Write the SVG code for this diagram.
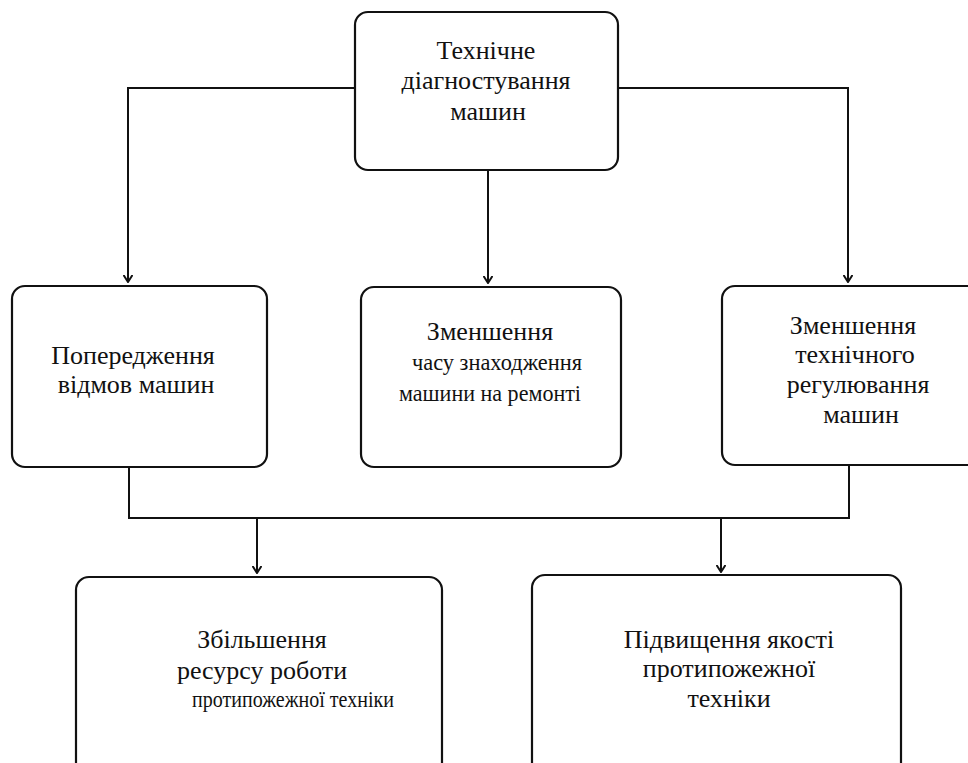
<svg xmlns="http://www.w3.org/2000/svg" width="968" height="763" viewBox="0 0 968 763">
<style>
.box{fill:#fff;stroke:#111;stroke-width:2.2}
.t{font-family:'Liberation Serif','Times New Roman',serif;font-size:26px;fill:#111;text-anchor:middle}
.s{font-size:23.5px}
.c{fill:none;stroke:#111;stroke-width:2}
</style>
<defs>
<marker id="arr" viewBox="0 0 8 10" refX="7.5" refY="5" markerWidth="8" markerHeight="10" markerUnits="userSpaceOnUse" orient="auto">
<path d="M0.5,0.5 L7.5,5 L0.5,9.5" fill="none" stroke="#111" stroke-width="2"/>
</marker>
</defs>
<rect width="968" height="763" fill="#fff"/>
<g id="connectors">
<path class="c" d="M355,88 H128 V282" marker-end="url(#arr)"/>
<path class="c" d="M618,88 H848 V282" marker-end="url(#arr)"/>
<path class="c" d="M488,170 V283" marker-end="url(#arr)"/>
<path class="c" d="M129,467 V518 H849 V465"/>
<path class="c" d="M257,518 V573" marker-end="url(#arr)"/>
<path class="c" d="M721,518 V572" marker-end="url(#arr)"/>
</g>
<g id="n_top">
<rect class="box" x="355" y="12" width="263" height="158" rx="13"/>
<text class="t" x="486" y="59">Технічне</text>
<text class="t" x="486" y="89">діагностування</text>
<text class="t" x="488" y="120">машин</text>
</g>
<g id="n_left">
<rect class="box" x="12" y="286" width="255" height="181" rx="13"/>
<text class="t" x="133" y="364">Попередження</text>
<text class="t" x="136" y="393">відмов машин</text>
</g>
<g id="n_mid">
<rect class="box" x="361" y="287" width="260" height="180" rx="13"/>
<text class="t" x="490" y="340">Зменшення</text>
<text class="t s" x="497" y="370" textLength="170" lengthAdjust="spacingAndGlyphs">часу знаходження</text>
<text class="t s" x="490" y="401" textLength="182" lengthAdjust="spacingAndGlyphs">машини на ремонті</text>
</g>
<g id="n_right">
<rect class="box" x="722" y="286" width="270" height="179" rx="13"/>
<text class="t" x="853" y="334">Зменшення</text>
<text class="t" x="855" y="363">технічного</text>
<text class="t" x="858" y="393">регулювання</text>
<text class="t" x="861" y="423">машин</text>
</g>
<g id="n_bl">
<rect class="box" x="76" y="577" width="366" height="230" rx="13"/>
<text class="t" x="262" y="648">Збільшення</text>
<text class="t" x="262" y="679">ресурсу роботи</text>
<text class="t s" x="293" y="707" textLength="202" lengthAdjust="spacingAndGlyphs">протипожежної техніки</text>
</g>
<g id="n_br">
<rect class="box" x="532" y="575" width="369" height="230" rx="13"/>
<text class="t" x="729" y="648">Підвищення якості</text>
<text class="t" x="729" y="677">протипожежної</text>
<text class="t" x="729" y="707">техніки</text>
</g>
</svg>
